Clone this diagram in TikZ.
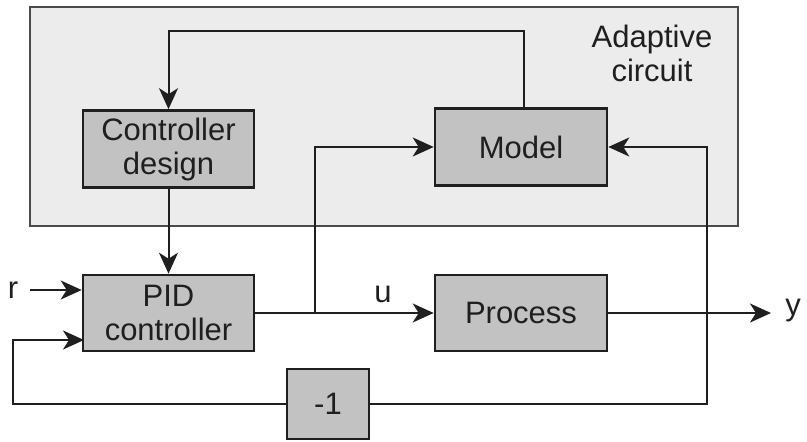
\documentclass[tikz,border=0pt]{standalone}
\usepackage{fontspec}
\setmainfont{Liberation Sans}
\usetikzlibrary{arrows.meta,calc}
\definecolor{panel}{gray}{0.925}
\definecolor{blockfill}{gray}{0.76}
\definecolor{ink}{gray}{0.12}
\tikzset{
  block/.style={draw=ink, line width=2.6pt, fill=blockfill, align=center,
    font=\fontsize{31}{34}\selectfont, text=ink, inner sep=0pt},
  conn/.style={draw=ink, line width=2pt},
  arr/.style={conn, -{Stealth[length=21pt,width=19pt,inset=6pt]}},
  lbl/.style={font=\fontsize{31}{34}\selectfont, text=ink, inner sep=0pt}
}
\begin{document}
\begin{tikzpicture}[x=1pt,y=-1pt]
  \useasboundingbox (0,0) rectangle (807,442);
  % adaptive loop panel
  \draw[draw=ink!80, line width=2.2pt, fill=panel] (30,7) rectangle (738,226);
  \node[lbl, align=center] (adlabel) at (652,53) {Adaptive\\circuit};

  % blocks
  \node[block, minimum width=171pt, minimum height=77pt] (cd) at (168.5,149) {Controller\\design};
  \node[block, minimum width=172pt, minimum height=77pt] (model) at (521,147) {Model};
  \node[block, minimum width=171pt, minimum height=76pt] (pid) at (168.5,313) {PID\\controller};
  \node[block, minimum width=172pt, minimum height=76pt] (proc) at (521,313) {Process};
  \node[block, minimum width=82pt, minimum height=70pt] (neg) at (328,404) {-1};

  % helper points
  \coordinate (top) at (524,31);
  \coordinate (br) at (315,313);
  \coordinate (yend) at (771,313);
  \coordinate (rc) at (707,404);
  \coordinate (lc) at (13,404);
  \coordinate (rstart) at (30,290);
  \coordinate (fbin) at (84,340);

  % model -> controller design
  \draw[arr] (model.north -| top) -- (top) -| (cd.north);
  % controller design -> PID
  \draw[arr] (cd.south) -- (pid.north);
  % reference input
  \draw[arr] (rstart) -- (rstart -| pid.west);
  \node[lbl] (r) at (13,290) {r};
  % control signal
  \draw[arr] (pid.east) -- (proc.west);
  \node[lbl] (u) at (383,294) {u};
  \draw[arr] (br) |- (model.west);
  % output
  \draw[arr] (proc.east) -- (yend);
  \node[lbl] (y) at (793,311) {y};
  % output to model and feedback
  \draw[arr] (neg.east) -- (rc) |- (model.east);
  \draw[arr] (neg.west) -- (lc) |- (fbin);
\end{tikzpicture}
\end{document}
